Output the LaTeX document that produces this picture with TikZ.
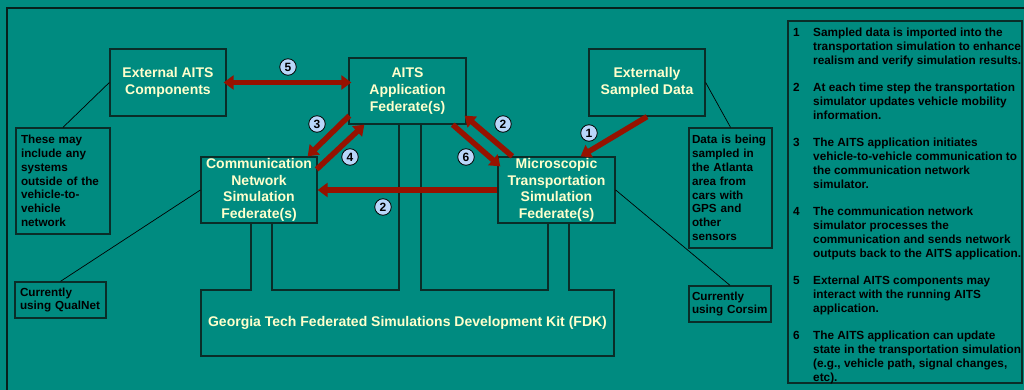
\documentclass[tikz,border=0pt]{standalone}
\usepackage{fontspec}
\setmainfont{Liberation Sans}
\usepackage{tikz}
\usetikzlibrary{%
	arrows.meta,%
	calc%
}
\definecolor{bgteal}{RGB}{0,139,128}
\definecolor{edgecol}{RGB}{10,45,40}
\definecolor{cream}{RGB}{255,255,204}
\definecolor{flowred}{RGB}{150,18,0}
\definecolor{stepblue}{RGB}{185,215,250}
\tikzstyle{fed}=[draw=edgecol, line width=1.3pt, inner sep=0pt, align=center, text=cream, font=\fontsize{14}{16.6}\selectfont\bfseries]
\tikzstyle{note}=[draw=edgecol, line width=1.3pt, inner ysep=0pt, align=left, text=black, font=\fontsize{11.7}{13.8}\selectfont\bfseries]
\tikzstyle{callout}=[draw=black, line width=0.7pt]
\tikzstyle{flow}=[draw=flowred, line width=5.5pt, ->]
\tikzstyle{twoway}=[draw=flowred, line width=5.5pt, <->]
\tikzstyle{steplabel}=[circle, draw=black, fill=stepblue, line width=0.8pt, inner sep=0pt, minimum size=16.5pt, font=\fontsize{12}{12}\selectfont\bfseries]
\tikzstyle{legtext}=[inner sep=0pt, align=left, anchor=base west, font=\fontsize{11.8}{14}\selectfont\bfseries]

\begin{document}
\begin{tikzpicture}[x=1pt, y=-1pt, line join=miter, >={Triangle[width=14pt,length=10pt]}]
	\path[use as bounding box, fill=bgteal] (0,0) rectangle (1024,390);
	\draw[edgecol!70!black, line width=2pt] (1024,8) -- (7,8) -- (7,390);

	% FDK outline with its pillars
	\draw[edgecol, line width=1.3pt] (201,290) -- (251,290) -- (251,223) -- (272,223) -- (272,290)
		-- (399,290) -- (399,124) -- (421,124) -- (421,290) -- (548,290) -- (548,223)
		-- (569,223) -- (569,290) -- (614,290) -- (614,356) -- (201,356) -- cycle;
	\node[text=cream, font=\fontsize{14}{16.6}\selectfont\bfseries] (fdk) at (407.5,323) {Georgia Tech Federated Simulations Development Kit (FDK)};

	\node[fed, minimum width=116pt, minimum height=67pt] (ext) at (168,82.5) {External AITS\\Components};
	\node[fed, minimum width=117pt, minimum height=66pt] (aits) at (407.5,91) {AITS\\Application\\Federate(s)};
	\node[fed, minimum width=116pt, minimum height=67pt] (esd) at (647,82.5) {Externally\\Sampled Data};
	\node[fed, minimum width=116pt, minimum height=66pt] (comm) at (259,190) {Communication\\Network\\Simulation\\Federate(s)};
	\node[fed, minimum width=117pt, minimum height=66pt] (micro) at (556.5,190) {Microscopic\\Transportation\\Simulation\\Federate(s)};

	\node[note, text width=84pt, inner xsep=5pt, minimum height=106pt] (extnote) at (63,181) {These may\\include any\\systems\\outside of the\\vehicle-to-\\vehicle\\network};
	\node[note, text width=81pt, inner xsep=5pt, minimum height=36pt] (commnote) at (60.5,300) {Currently\\using QualNet};
	\node[note, text width=77pt, inner xsep=3pt, minimum height=120pt] (esdnote) at (730.5,188) {Data is being\\sampled in\\the Atlanta\\area from\\cars with\\GPS and\\other\\sensors};
	\node[note, text width=76pt, inner xsep=3pt, minimum height=36pt] (micronote) at (730,304) {Currently\\using Corsim};

	\draw[callout] (extnote.north) -- (ext.west);
	\draw[callout] (commnote.north) -- (comm.west);
	\draw[callout] (esd.east) -- (esdnote.north);
	\draw[callout] (micro.east) -- (micronote.north);

	% Data flows
	\draw[twoway] ($(ext.east)+(-3,0)$) -- ($(ext.east -| aits.west)+(3,0)$);
	\draw[flow] ($(aits.south west)+(1,-9)$) -- ($(comm.north east)+(-10,0)$);
	\draw[flow] ($(comm.north east)+(-1,13)$) -- ($(aits.south west)+(16,0)$);
	\draw[flow] ($(micro.north west)+(15,0)$) -- ($(aits.south east)+(-2,-9)$);
	\draw[flow] ($(aits.south east)+(-14,0)$) -- ($(micro.north west)+(3,10)$);
	\draw[flow] (micro.west) -- (micro.west -| comm.east);
	\draw[flow] (esd.south) -- ($(micro.north east)+(-35,0)$);

	% Step numbers
	\foreach \nm/\num/\x/\y in {st5/5/288/67, st3/3/317/124, st4/4/350/157, st2a/2/503/124, st6/6/466/157, st2b/2/383/207, st1/1/589/133}
		\node[steplabel] (\nm) at (\x,\y) {\num};

	% Legend (first and last baseline of each item)
	\node[draw=edgecol, line width=1.3pt, minimum width=234pt, minimum height=362pt, inner sep=0pt] (legend) at (905,202) {};
	\foreach \num/\y/\yb/\txt in {%
		1/36.2/64.2/{Sampled data is imported into the\\transportation simulation to enhance\\realism and verify simulation results.},
		2/91.2/119.2/{At each time step the transportation\\simulator updates vehicle mobility\\information.},
		3/146.2/188.2/{The AITS application initiates\\vehicle-to-vehicle communication to\\the communication network\\simulator.},
		4/215.2/257.2/{The communication network\\simulator processes the\\communication and sends network\\outputs back to the AITS application.},
		5/284.2/312.2/{External AITS components may\\interact with the running AITS\\application.},
		6/339.2/381.2/{The AITS application can update\\state in the transportation simulation\\(e.g., vehicle path, signal changes,\\etc).}}
	{
		\node[legtext] (num\num) at (793,\y) {\num};
		\node[legtext] (item\num) at (813,\yb) {\txt};
	}
\end{tikzpicture}
\end{document}
